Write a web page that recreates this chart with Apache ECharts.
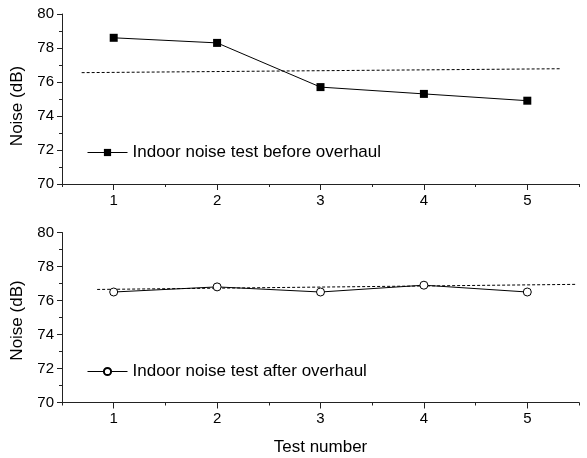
<!DOCTYPE html>
<html>
<head>
<meta charset="utf-8">
<script src="https://cdn.jsdelivr.net/npm/echarts@6/dist/echarts.min.js"></script>
<style>
  html, body { margin: 0; padding: 0; background: #fff; }
  #chart { width: 587px; height: 458px; }
</style>
</head>
<body>
<div id="chart"></div>
<script>
// test numbers on the x axis
const testNumbers = ['1', '2', '3', '4', '5'];
// noise values (dB)
const beforeNoise = [78.6, 78.3, 75.7, 75.3, 74.9];
const afterNoise = [76.5, 76.8, 76.5, 76.9, 76.5];
// dashed reference lines [x, y]
const beforeTrend = [[0.69, 76.55], [5.32, 76.78]];
const afterTrend = [[0.84, 76.65], [5.48, 76.95]];

const FONT = 'Liberation Sans, Arial, sans-serif';
const AXIS_COLOR = '#222';

const chart = echarts.init(document.getElementById('chart'), null, { renderer: 'canvas' });

function yAxisFor(gridIndex, padRight) {
  return {
    type: 'value',
    gridIndex: gridIndex,
    min: 70,
    max: 80,
    interval: 2,
    name: 'Noise (dB)',
    nameLocation: 'middle',
    nameGap: 36,
    nameTextStyle: { fontFamily: FONT, fontSize: 17, color: '#000', padding: [0, padRight, 0, 0] },
    axisLine: { show: true, lineStyle: { color: AXIS_COLOR, width: 1 } },
    axisTick: { show: true, length: 5, lineStyle: { color: AXIS_COLOR } },
    minorTick: { show: true, splitNumber: 2, length: 3, lineStyle: { color: AXIS_COLOR } },
    axisLabel: { fontFamily: FONT, fontSize: 15, color: '#000', margin: 8 },
    splitLine: { show: false }
  };
}

// value axis carries the data plus the short half-step ticks
function xValueAxis(gridIndex, withName) {
  return {
    type: 'value',
    gridIndex: gridIndex,
    position: 'bottom',
    min: 0.5,
    max: 5.5,
    interval: 0.5,
    name: withName ? 'Test number' : '',
    nameLocation: 'middle',
    nameGap: 36,
    nameTextStyle: { fontFamily: FONT, fontSize: 17, color: '#000' },
    axisLine: { show: true, onZero: false, lineStyle: { color: AXIS_COLOR, width: 1 } },
    axisTick: { show: true, length: 3, lineStyle: { color: AXIS_COLOR } },
    axisLabel: { show: false },
    splitLine: { show: false }
  };
}

// category axis just for the long integer ticks and their labels
function xCatAxis(gridIndex) {
  return {
    type: 'category',
    gridIndex: gridIndex,
    position: 'bottom',
    data: testNumbers,
    boundaryGap: true,
    axisLine: { show: false, onZero: false },
    axisTick: { show: true, alignWithLabel: true, length: 6, lineStyle: { color: AXIS_COLOR } },
    axisLabel: { fontFamily: FONT, fontSize: 15, color: '#000', margin: 9 },
    splitLine: { show: false }
  };
}

function toPoints(vals) {
  return vals.map((v, i) => [Number(testNumbers[i]), v]);
}

function legendFor(name, top) {
  return {
    left: 82, top: top,
    data: [name],
    itemWidth: 40, itemHeight: 9, itemGap: 5,
    lineStyle: { width: 1 },
    textStyle: { fontFamily: FONT, fontSize: 17, color: '#000' }
  };
}

const option = {
  backgroundColor: '#fff',
  animation: false,
  grid: [
    { left: 62, top: 14, width: 517, height: 170, containLabel: false },
    { left: 62, top: 232.5, width: 517, height: 170, containLabel: false }
  ],
  xAxis: [xValueAxis(0, false), xCatAxis(0), xValueAxis(1, true), xCatAxis(1)],
  yAxis: [yAxisFor(0, 14), yAxisFor(1, 6)],
  legend: [
    legendFor('Indoor noise test before overhaul', 139),
    legendFor('Indoor noise test after overhaul', 358)
  ],
  series: [
    {
      name: 'Indoor noise test before overhaul',
      type: 'line',
      xAxisIndex: 0, yAxisIndex: 0,
      data: toPoints(beforeNoise),
      symbol: 'rect',
      symbolSize: 8,
      lineStyle: { color: '#000', width: 1 },
      itemStyle: { color: '#000' },
      z: 3
    },
    {
      name: 'before trend',
      type: 'line',
      xAxisIndex: 0, yAxisIndex: 0,
      data: beforeTrend,
      symbol: 'none',
      lineStyle: { color: '#000', width: 1, type: [3, 2] },
      silent: true,
      z: 2
    },
    {
      name: 'Indoor noise test after overhaul',
      type: 'line',
      xAxisIndex: 2, yAxisIndex: 1,
      data: toPoints(afterNoise),
      symbol: 'circle',
      symbolSize: 8,
      lineStyle: { color: '#000', width: 1 },
      itemStyle: { color: '#fff', borderColor: '#000', borderWidth: 1 },
      z: 3
    },
    {
      name: 'after trend',
      type: 'line',
      xAxisIndex: 2, yAxisIndex: 1,
      data: afterTrend,
      symbol: 'none',
      lineStyle: { color: '#000', width: 1, type: [3, 2] },
      silent: true,
      z: 2
    }
  ]
};

chart.setOption(option);
</script>
</body>
</html>
